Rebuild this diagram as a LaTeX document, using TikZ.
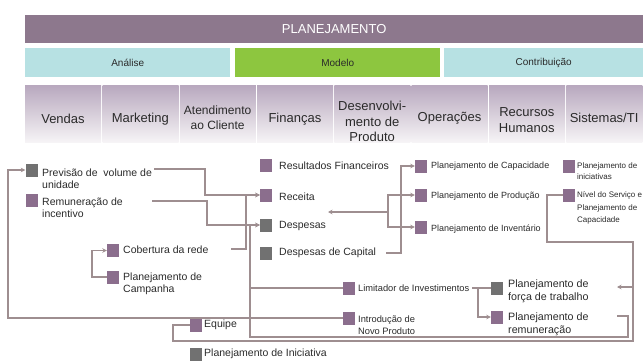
\documentclass[tikz,border=0pt]{standalone}
\usepackage{fontspec}
\setmainfont{Liberation Sans}
\usetikzlibrary{arrows.meta,backgrounds}
\definecolor{barpurple}{HTML}{8D788D}
\definecolor{cyanband}{HTML}{B7E1E3}
\definecolor{greenband}{HTML}{8DC63F}
\definecolor{coltop}{HTML}{B8A8BE}
\definecolor{colbot}{HTML}{F6F4F6}
\definecolor{mkpurple}{HTML}{8B6E8D}
\definecolor{mkgray}{HTML}{717171}
\definecolor{linec}{HTML}{9E8E90}
\definecolor{txt}{HTML}{2A2A2A}
\tikzset{
  band/.style={anchor=north west, inner sep=0, minimum height=29pt, text=txt, font=\fontsize{10}{12}\selectfont},
  colbox/.style={anchor=north west, inner sep=0, minimum width=76pt, minimum height=57pt, top color=coltop, bottom color=colbot, draw=none},
  coltext/.style={inner sep=0, align=center, text=txt, font=\fontsize{13}{15.5}\selectfont},
  mk/.style={minimum width=12pt, minimum height=13pt, inner sep=0, draw=none, fill=mkpurple},
  mkg/.style={mk, fill=mkgray},
  lbl/.style={anchor=west, inner sep=0, align=left, text=txt, font=\fontsize{10.5}{11.7}\selectfont},
  lbls/.style={lbl, font=\fontsize{9}{11}\selectfont},
  lblxs/.style={lbl, font=\fontsize{8}{10.5}\selectfont},
  lblm/.style={lbl, font=\fontsize{9.3}{12}\selectfont},
  lbll/.style={lbl, font=\fontsize{10.7}{13}\selectfont},
  conn/.style={draw=linec, line width=1.2pt},
  arr/.style={conn, -{Stealth[length=4.5pt,width=4.5pt]}}
}
\begin{document}
\begin{tikzpicture}[x=1pt,y=-1pt]
\useasboundingbox (0,0) rectangle (643,361);
% header bands
\node[band, fill=barpurple, minimum width=618pt, minimum height=28pt, text=white, font=\fontsize{13}{15}\selectfont] (plan) at (25,15) {PLANEJAMENTO};
\node[band, fill=cyanband, minimum width=205pt] (analise) at (25,48) {Análise};
\node[band, fill=greenband, minimum width=205pt] (modelo) at (235,48) {Modelo};
\node[band, fill=cyanband, minimum width=199pt] (contrib) at (444,48) {Contribuição};
% columns
\node[colbox] (c1) at (25,85) {};
\node[colbox] (c2) at (102.3,85) {};
\node[colbox] (c3) at (179.6,85) {};
\node[colbox] (c4) at (256.9,85) {};
\node[colbox] (c5) at (334.2,85) {};
\node[colbox] (c6) at (411.5,85) {};
\node[colbox] (c7) at (488.8,85) {};
\node[colbox] (c8) at (566.1,85) {};
\node[coltext] (t1) at (63,119) {Vendas};
\node[coltext] (t2) at (140.3,119) {Marketing};
\node[coltext, font=\fontsize{12}{15}\selectfont] (t3) at (217.6,118) {Atendimento\\ao Cliente};
\node[coltext] (t4) at (294.9,119) {Finanças};
\node[coltext] (t5) at (372.2,121.5) {Desenvolvi-\\mento de\\Produto};
\node[coltext] (t6) at (449.5,118) {Operações};
\node[coltext] (t7) at (526.8,120) {Recursos\\Humanos};
\node[coltext] (t8) at (604.1,118) {Sistemas/TI};
% markers
\node[mkg] (prev) at (31.5,170) {};
\node[mk] (remi) at (31.5,200) {};
\node[mk] (cob) at (113,250.5) {};
\node[mk] (camp) at (113,277) {};
\node[mk] (resf) at (266,165) {};
\node[mk] (rec) at (266,195) {};
\node[mkg] (desp) at (266,225) {};
\node[mkg] (dcap) at (266,253) {};
\node[mk] (cap) at (421,166) {};
\node[mk] (prod) at (421,195) {};
\node[mk] (inv) at (421,227) {};
\node[mk] (inic) at (569,166) {};
\node[mk] (niv) at (569,195) {};
\node[mk] (lim) at (349,288) {};
\node[mk] (intro) at (349,318) {};
\node[mkg] (forca) at (497,288) {};
\node[mk] (remu) at (497,317) {};
\node[mk] (equipe) at (196,325) {};
\node[mkg] (planinic) at (196,354) {};
% labels
\node[lbl] (tprev) at (42,179) {Previsão de\ \ volume de\\unidade};
\node[lbl] (tremi) at (42,207.5) {Remuneração de\\incentivo};
\node[lbl] (tcob) at (123,250) {Cobertura da rede};
\node[lbl] (tcamp) at (123,284) {Planejamento de\\Campanha};
\node[lbl] (tresf) at (279,166) {Resultados Financeiros};
\node[lbl] (trec) at (279,197) {Receita};
\node[lbl] (tdesp) at (279,226) {Despesas};
\node[lbl] (tdcap) at (279,253) {Despesas de Capital};
\node[lbls] (tcap) at (431,166) {Planejamento de Capacidade};
\node[lbls] (tprod) at (431,196) {Planejamento de Produção};
\node[lbls] (tinv) at (431,229) {Planejamento de Inventário};
\node[lblxs] (tinic) at (577,171) {Planejamento de\\iniciativas};
\node[lblxs, font=\fontsize{8}{12.5}\selectfont] (tniv) at (577,208) {Nível do Serviço e\\Planejamento de\\Capacidade};
\node[lblm] (tlim) at (358,288) {Limitador de Investimentos};
\node[lblm] (tintro) at (358,325) {Introdução de\\Novo Produto};
\node[lbll] (tforca) at (508,291.5) {Planejamento de\\força de trabalho};
\node[lbll] (tremu) at (508,324.5) {Planejamento de\\remuneração};
\node[lbl] (tequipe) at (204,325) {Equipe};
\node[lbl] (tplaninic) at (204,354) {Planejamento de Iniciativa};
% connectors
\coordinate (tl) at (8,170);
\coordinate (prevout) at (154,169);
\coordinate (j1) at (205,169);
\coordinate (remiout) at (152,201);
\coordinate (j2) at (207,201);
\coordinate (cobout) at (231,249);
\coordinate (j3) at (246,249);
\coordinate (j4) at (92,277);
\coordinate (remuout) at (617,316);
\coordinate (r2) at (628,337);
\coordinate (r3) at (250,337);
\coordinate (limin) at (250,288);
\coordinate (n1) at (547,195);
\coordinate (n2) at (633,242);
\coordinate (n3) at (173,341);
\coordinate (n5) at (633,287);
\coordinate (n6) at (617,287);
\coordinate (limout) at (472,288);
\coordinate (l1) at (478,288);
\coordinate (dout) at (328,212);
\coordinate (o1) at (388,212);
\coordinate (capout) at (386,253);
\coordinate (cv) at (401,253);
\begin{pgfonlayer}{background}
\draw[arr] (intro.west) -| (tl) -- (prev.west);
\draw[arr] (prevout) -- (j1) |- (rec.west);
\draw[arr] (remiout) -- (j2) |- (desp.west);
\draw[arr] (cobout) -- (j3) |- (rec.west);
\draw[arr] (camp.west) -- (j4) |- (cob.west);
\draw[arr] (remuout) -| (r2) -- (r3) |- (desp.west);
\draw[conn] (limin) -- (lim.west);
\draw[conn] (niv.west) -- (n1) |- (n2) |- (n3) |- (equipe.west);
\draw[arr] (n5) -- (n6);
\draw[conn] (limout) -- (forca.west);
\draw[arr] (l1) |- (remu.west);
\draw[conn, {Stealth[length=4.5pt,width=4.5pt]}-] (dout) -- (o1);
\draw[arr] (o1) |- (prod.west);
\draw[arr] (o1) |- (inv.west);
\draw[arr] (capout) -- (cv) |- (cap.west);
\end{pgfonlayer}
\end{tikzpicture}
\end{document}
